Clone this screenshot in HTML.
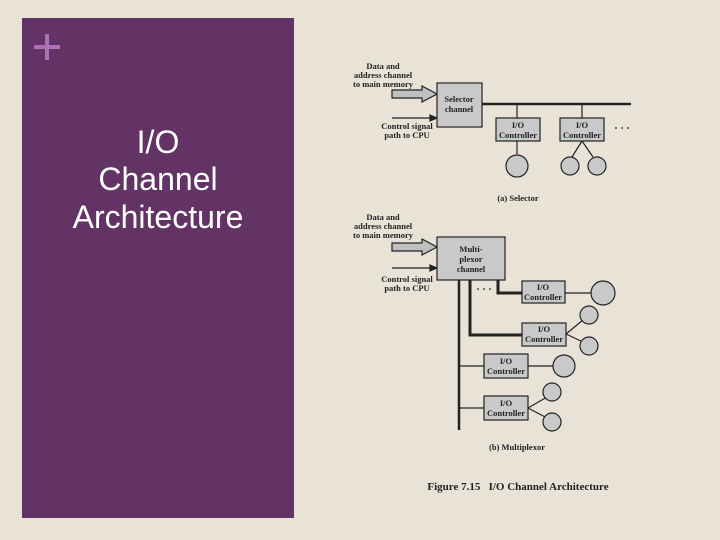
<!DOCTYPE html>
<html><head><style>
html,body{margin:0;padding:0;}
body{width:720px;height:540px;background:#e9e3d7;position:relative;overflow:hidden;}
</style></head><body>
<svg width="720" height="540" viewBox="0 0 720 540" xmlns="http://www.w3.org/2000/svg" style="position:absolute;left:0;top:0">
<rect x="0" y="0" width="720" height="540" fill="#e9e3d7"/>
<rect x="22" y="18" width="272" height="500" fill="#633366"/>
<rect x="34" y="45" width="26" height="4" fill="#b070b8"/>
<rect x="45" y="34" width="4" height="26" fill="#b070b8"/>
<g font-family="Liberation Sans, sans-serif" font-size="32" fill="#ffffff" text-anchor="middle">
<text x="158" y="153">I/O</text>
<text x="158" y="190">Channel</text>
<text x="158" y="228">Architecture</text>
</g>
<g stroke="#222" fill="#c9c9c9" stroke-width="1.2">
<polygon points="392,90 422,90 422,86 437,94 422,102 422,98 392,98" fill="#c0c0c0"/>
<line x1="392" y1="118" x2="432" y2="118"/>
<polygon points="437,118 430,115 430,121" fill="#222"/>
<rect x="437" y="83" width="45" height="44"/>
<line x1="482" y1="104" x2="631" y2="104" stroke-width="2.5"/>
<line x1="517" y1="104" x2="517" y2="118"/>
<line x1="582" y1="104" x2="582" y2="118"/>
<rect x="496" y="118" width="44" height="23"/>
<rect x="560" y="118" width="44" height="23"/>
<line x1="517" y1="141" x2="517" y2="154"/>
<circle cx="517" cy="166" r="11"/>
<line x1="582" y1="141" x2="572" y2="157"/>
<line x1="582" y1="141" x2="593" y2="157"/>
<circle cx="570" cy="166" r="9"/>
<circle cx="597" cy="166" r="9"/>
<polygon points="392,243 422,243 422,239 437,247 422,255 422,251 392,251" fill="#c0c0c0"/>
<line x1="392" y1="268" x2="432" y2="268"/>
<polygon points="437,268 430,265 430,271" fill="#222"/>
<rect x="437" y="237" width="68" height="43"/>
<line x1="459" y1="280" x2="459" y2="430" stroke-width="2.5"/>
<polyline points="498,280 498,293 522,293" fill="none" stroke-width="3"/>
<polyline points="470,280 470,335 522,335" fill="none" stroke-width="3"/>
<rect x="522" y="281" width="43" height="22"/>
<rect x="522" y="323" width="44" height="23"/>
<line x1="565" y1="293" x2="591" y2="293"/>
<circle cx="603" cy="293" r="12"/>
<line x1="566" y1="334" x2="583" y2="320"/>
<line x1="566" y1="334" x2="583" y2="342"/>
<circle cx="589" cy="315" r="9"/>
<circle cx="589" cy="346" r="9"/>
<line x1="459" y1="366" x2="484" y2="366"/>
<line x1="459" y1="408" x2="484" y2="408"/>
<rect x="484" y="354" width="44" height="24"/>
<rect x="484" y="396" width="44" height="24"/>
<line x1="528" y1="366" x2="553" y2="366"/>
<circle cx="564" cy="366" r="11"/>
<line x1="528" y1="408" x2="547" y2="397"/>
<line x1="528" y1="408" x2="547" y2="418"/>
<circle cx="552" cy="392" r="9"/>
<circle cx="552" cy="422" r="9"/>
</g>
<g fill="#222">
<circle cx="616" cy="128" r="0.9"/><circle cx="622" cy="128" r="0.9"/><circle cx="628" cy="128" r="0.9"/>
<circle cx="478" cy="289" r="0.9"/><circle cx="484" cy="289" r="0.9"/><circle cx="490" cy="289" r="0.9"/>
</g>
<g font-family="Liberation Serif, serif" font-size="8.5" font-weight="bold" fill="#222" text-anchor="middle">
<text x="383" y="69">Data and</text>
<text x="383" y="78">address channel</text>
<text x="383" y="87">to main memory</text>
<text x="407" y="129">Control signal</text>
<text x="407" y="138">path to CPU</text>
<text x="459" y="102">Selector</text>
<text x="459" y="112">channel</text>
<text x="518" y="128">I/O</text>
<text x="518" y="138">Controller</text>
<text x="582" y="128">I/O</text>
<text x="582" y="138">Controller</text>
<text x="518" y="201">(a) Selector</text>
<text x="383" y="220">Data and</text>
<text x="383" y="229">address channel</text>
<text x="383" y="238">to main memory</text>
<text x="407" y="282">Control signal</text>
<text x="407" y="291">path to CPU</text>
<text x="471" y="252">Multi-</text>
<text x="471" y="262">plexor</text>
<text x="471" y="272">channel</text>
<text x="543" y="290">I/O</text>
<text x="543" y="300">Controller</text>
<text x="544" y="332">I/O</text>
<text x="544" y="342">Controller</text>
<text x="506" y="364">I/O</text>
<text x="506" y="374">Controller</text>
<text x="506" y="406">I/O</text>
<text x="506" y="416">Controller</text>
<text x="517" y="450">(b) Multiplexor</text>
</g>
<text x="518" y="490" font-family="Liberation Serif, serif" font-size="11" font-weight="bold" fill="#222" text-anchor="middle" xml:space="preserve">Figure 7.15   I/O Channel Architecture</text>
</svg>
</body></html>
